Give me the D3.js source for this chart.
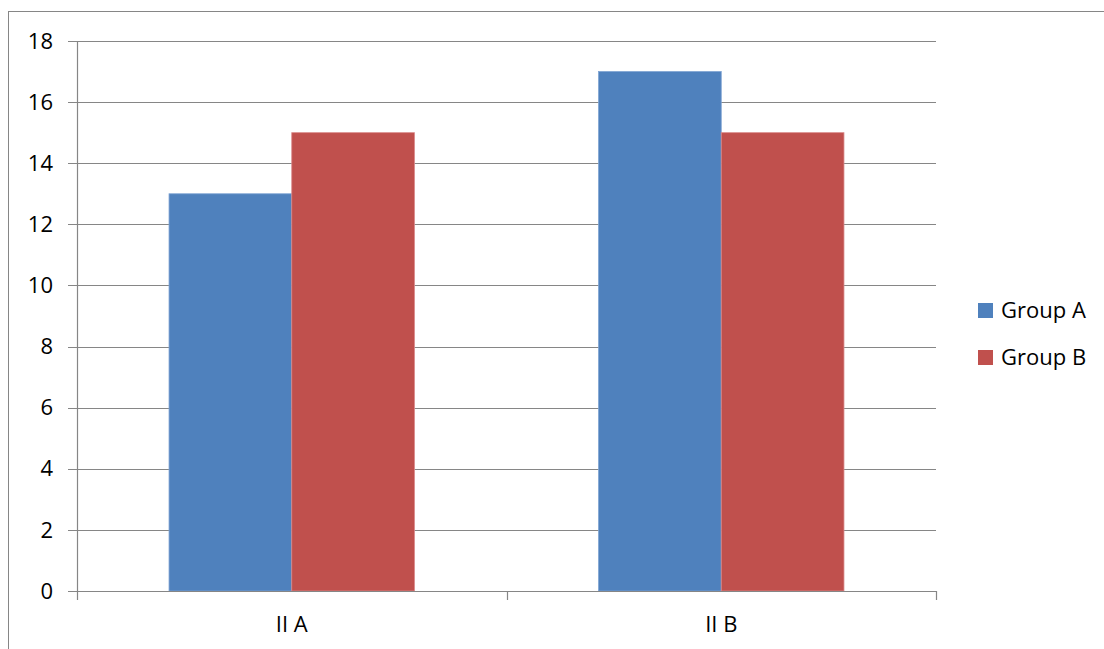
<!DOCTYPE html>
<html>
<head>
<meta charset="utf-8">
<script src="https://cdn.jsdelivr.net/npm/d3@7"></script>
<style>
  html, body { margin: 0; padding: 0; background: #fff; }
  svg { display: block; font-family: "Open Sans", "Noto Sans", sans-serif; }
</style>
</head>
<body>
<svg id="chart" width="1104" height="649"></svg>
<script>
// chart values
const categories = ['II A', 'II B'];
const seriesNames = ['Group A', 'Group B'];
const groupA = [13, 17];
const groupB = [15, 15];
const yTicks = [0, 2, 4, 6, 8, 10, 12, 14, 16, 18];
const colors = ['#4F81BD', '#C0504D'];

const svg = d3.select('#chart');
const m = {left: 77, right: 936, top: 41, bottom: 591};

// outer chart border (runs off the right and bottom edges)
svg.append('rect')
  .attr('x', 8.5).attr('y', 11.5)
  .attr('width', 1200).attr('height', 800)
  .attr('fill', 'none').attr('stroke', '#868686').attr('stroke-width', 1);

const x0 = d3.scaleBand().domain(categories).range([m.left, m.right]).paddingInner(0).paddingOuter(0);
const x1 = d3.scaleBand().domain(seriesNames).range([0, x0.bandwidth()]).paddingInner(0).paddingOuter(0.75);
const y = d3.scaleLinear().domain([0, 18]).range([m.bottom, m.top]);

// gridlines + y ticks
const gy = svg.append('g');
yTicks.forEach(t => {
  gy.append('line')
    .attr('x1', m.left - 9).attr('x2', m.right)
    .attr('y1', Math.round(y(t)) + 0.5).attr('y2', Math.round(y(t)) + 0.5)
    .attr('stroke', '#868686').attr('stroke-width', 1.2);
  gy.append('text')
    .attr('x', 53).attr('y', y(t))
    .attr('dy', '0.35em').attr('text-anchor', 'end')
    .attr('font-size', 22).attr('fill', '#000')
    .text(t);
});

// bars
const rows = categories.map((c, i) => ({cat: c, vals: [groupA[i], groupB[i]]}));
const g = svg.append('g');
rows.forEach(r => {
  r.vals.forEach((v, j) => {
    g.append('rect')
      .attr('x', x0(r.cat) + x1(seriesNames[j]))
      .attr('y', y(v))
      .attr('width', x1.bandwidth())
      .attr('height', y(0) - y(v))
      .attr('fill', colors[j])
      .attr('stroke', j === 0 ? '#7EA3D3' : '#D9898A')
      .attr('stroke-width', 0.8);
  });
});

// y axis line
svg.append('line')
  .attr('x1', m.left + 0.5).attr('x2', m.left + 0.5)
  .attr('y1', m.top).attr('y2', m.bottom)
  .attr('stroke', '#868686').attr('stroke-width', 1.2);

// x axis line + ticks
svg.append('line')
  .attr('x1', m.left).attr('x2', m.right)
  .attr('y1', m.bottom + 0.5).attr('y2', m.bottom + 0.5)
  .attr('stroke', '#868686').attr('stroke-width', 1.2);
const xTickPos = [m.left, ...categories.map(c => x0(c) + x0.bandwidth())];
xTickPos.forEach(p => {
  svg.append('line')
    .attr('x1', Math.round(p) + 0.5).attr('x2', Math.round(p) + 0.5)
    .attr('y1', m.bottom).attr('y2', m.bottom + 9)
    .attr('stroke', '#868686').attr('stroke-width', 1.2);
});
categories.forEach(c => {
  svg.append('text')
    .attr('x', x0(c) + x0.bandwidth() / 2).attr('y', 624)
    .attr('dy', '0.35em').attr('text-anchor', 'middle')
    .attr('font-size', 22).attr('fill', '#000')
    .text(c);
});

// legend
seriesNames.forEach((s, i) => {
  const ly = 310.5 + i * 47;
  svg.append('rect')
    .attr('x', 978).attr('y', ly - 7.5).attr('width', 15).attr('height', 15)
    .attr('fill', colors[i]);
  svg.append('text')
    .attr('x', 1001).attr('y', ly)
    .attr('dy', '0.35em')
    .attr('font-size', 22).attr('fill', '#000')
    .text(s);
});
</script>
</body>
</html>
